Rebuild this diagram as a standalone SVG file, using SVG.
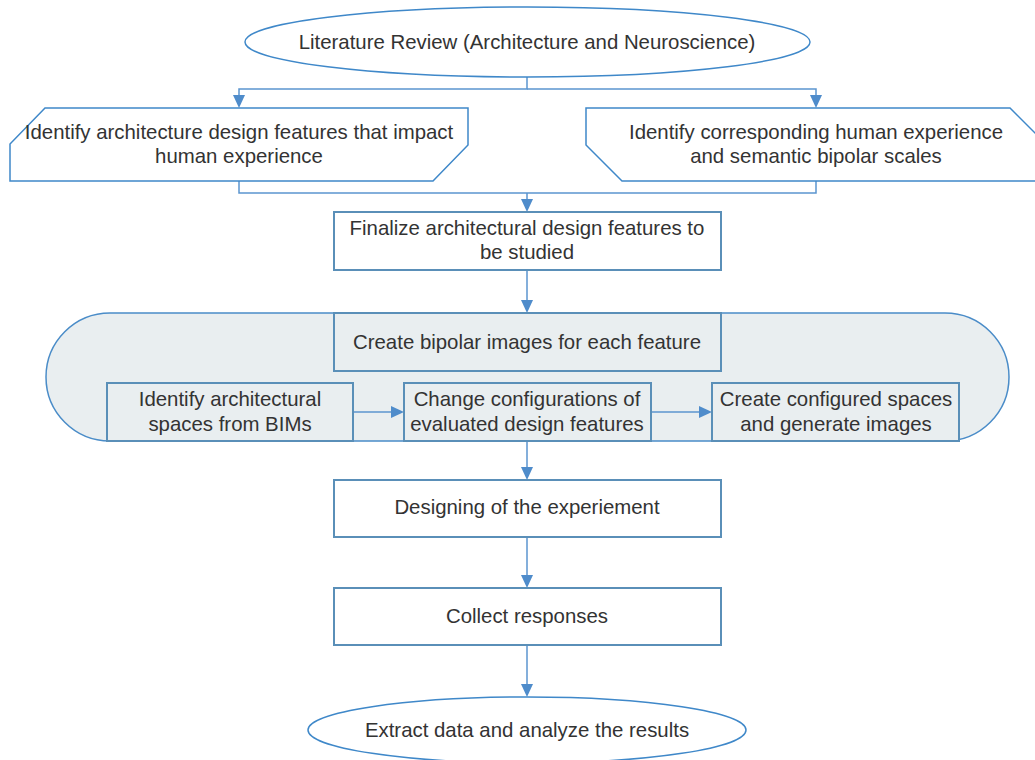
<svg xmlns="http://www.w3.org/2000/svg" width="1035" height="760" viewBox="0 0 1035 760">
<defs>
<style>
.t{font-family:"Liberation Sans",Arial,sans-serif;font-size:20.4px;fill:#333;text-anchor:middle}
.ell{fill:#fff;stroke:#3f88c9;stroke-width:1.5}
.box{fill:#fff;stroke:#5a8fb8;stroke-width:2}
.sub{fill:#e9eef0;stroke:#5a8fb8;stroke-width:2}
.con{fill:none;stroke:#5b95cf;stroke-width:1.5}
.ah{fill:#4f8ccb}
</style>
</defs>
<rect width="1035" height="760" fill="#fff"/>
<g id="container">
<path d="M110,313 H945 A64,64 0 0 1 945,441 H110 A64,64 0 0 1 110,313 Z" fill="#e9eef0" stroke="#4a8cc8" stroke-width="1.5"/>
</g>
<g id="connectors">
<path class="con" d="M527,77 V89 H239 V100"/>
<path class="con" d="M527,89 H816 V100"/>
<path class="ah" d="M233,95 L245,95 L239,108 Z"/>
<path class="ah" d="M810,95 L822,95 L816,108 Z"/>
<path class="con" d="M239,181 V193 H816 V181"/>
<path class="con" d="M527,193 V205"/>
<path class="ah" d="M521,199 L533,199 L527,212 Z"/>
<path class="con" d="M527,270 V305"/>
<path class="ah" d="M521,300 L533,300 L527,313 Z"/>
<path class="con" d="M353,412 H396"/>
<path class="ah" d="M391,406 L391,418 L404,412 Z"/>
<path class="con" d="M651,412 H704"/>
<path class="ah" d="M699,406 L699,418 L712,412 Z"/>
<path class="con" d="M527,441 V472"/>
<path class="ah" d="M521,467 L533,467 L527,480 Z"/>
<path class="con" d="M527,537 V580"/>
<path class="ah" d="M521,575 L533,575 L527,588 Z"/>
<path class="con" d="M527,645 V689"/>
<path class="ah" d="M521,684 L533,684 L527,697 Z"/>
</g>
<g id="n-literature">
<ellipse class="ell" cx="527.5" cy="42" rx="282.5" ry="35"/>
<text class="t" x="527" y="49">Literature Review (Architecture and Neuroscience)</text>
</g>
<g id="n-identify-features">
<polygon class="ell" points="45,108 468,108 468,145 433,181 10,181 10,144"/>
<text class="t" x="239" y="139">Identify architecture design features that impact</text>
<text class="t" x="239" y="163">human experience</text>
</g>
<g id="n-identify-scales">
<polygon class="ell" points="586,108 1010,108 1046,144 1046,181 622,181 586,145"/>
<text class="t" x="816" y="139">Identify corresponding human experience</text>
<text class="t" x="816" y="163">and semantic bipolar scales</text>
</g>
<g id="n-finalize">
<rect class="box" x="334" y="212" width="387" height="58"/>
<text class="t" x="527" y="235">Finalize architectural design features to</text>
<text class="t" x="527" y="259">be studied</text>
</g>
<g id="n-bipolar">
<rect class="sub" x="334" y="313" width="387" height="58"/>
<text class="t" x="527" y="349">Create bipolar images for each feature</text>
</g>
<g id="n-spaces">
<rect class="sub" x="107" y="383" width="246" height="58"/>
<text class="t" x="230" y="406">Identify architectural</text>
<text class="t" x="230" y="431">spaces from BIMs</text>
</g>
<g id="n-change">
<rect class="sub" x="404" y="383" width="247" height="58"/>
<text class="t" x="527" y="406">Change configurations of</text>
<text class="t" x="527" y="431">evaluated design features</text>
</g>
<g id="n-configured">
<rect class="sub" x="712" y="383" width="247" height="58"/>
<text class="t" x="836" y="406">Create configured spaces</text>
<text class="t" x="836" y="431">and generate images</text>
</g>
<g id="n-designing">
<rect class="box" x="334" y="480" width="387" height="57"/>
<text class="t" x="527" y="514">Designing of the experiement</text>
</g>
<g id="n-collect">
<rect class="box" x="334" y="588" width="387" height="57"/>
<text class="t" x="527" y="623">Collect responses</text>
</g>
<g id="n-extract">
<ellipse class="ell" cx="527" cy="730" rx="219" ry="33"/>
<text class="t" x="527" y="737">Extract data and analyze the results</text>
</g>
</svg>
